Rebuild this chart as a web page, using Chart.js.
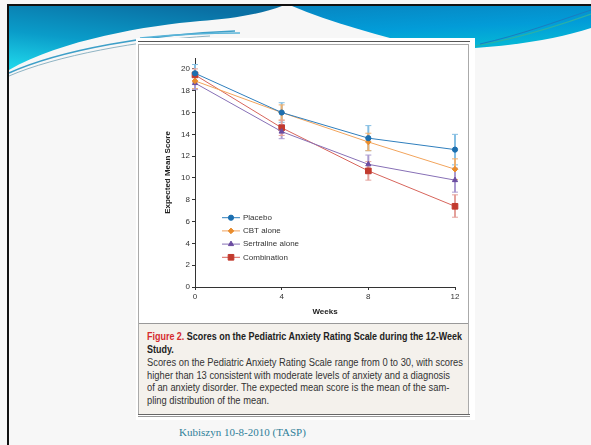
<!DOCTYPE html>
<html>
<head>
<meta charset="utf-8">
<script src="https://cdn.jsdelivr.net/npm/chart.js@4.4.1/dist/chart.umd.min.js"></script>
<style>
  html, body { margin: 0; padding: 0; }
  body { width: 591px; height: 445px; overflow: hidden; background: #f7f7f7; position: relative; font-family: "Liberation Sans", Arial, sans-serif; }
  #header { position: absolute; left: 0; top: 0; }
  .bar { position: absolute; background: #111; }
  #panel { position: absolute; left: 136px; top: 38px; width: 339px; height: 382px; background: #fff; }
  #topline { position: absolute; left: 138px; top: 41px; width: 332px; height: 1px; background: #555; }
  #figbox { position: absolute; left: 138px; top: 44px; width: 329px; height: 369px; border: 1px solid #aaa; background: #fff; }
  #anxietyChart { position: absolute; left: 0; top: 0; }
  #caption { position: absolute; left: 0; top: 278px; width: 329px; height: 91px; background: #f4f1ec; border-top: 1px solid #999; box-sizing: border-box; padding: 6px 0 0 8px; }
  .line { white-space: nowrap; transform-origin: 0 50%; }
  .line span.t { display: inline-block; }
  .cap-title { font-weight: bold; font-size: 10px; line-height: 13px; color: #222; }
  .cap-title .fig { color: #d42a2f; }
  .cap-body { font-size: 10px; line-height: 12.5px; color: #333; }
  #bottomline { position: absolute; left: 138px; top: 414px; width: 332px; height: 1px; border-top: 1px solid #666; border-bottom: 1px solid #999; }
  #footer { position: absolute; left: 179px; top: 426px; font-family: "Liberation Serif", "DejaVu Serif", serif; font-size: 11px; color: #2f7f99; white-space: nowrap; }
</style>
</head>
<body>
<svg id="header" width="591" height="90">
  <defs>
    <linearGradient id="leftBlue" x1="0.6" y1="0" x2="0.1" y2="1">
      <stop offset="0" stop-color="#0a70a4"/>
      <stop offset="0.55" stop-color="#0a9cc9"/>
      <stop offset="1" stop-color="#1fd6ea"/>
    </linearGradient>
    <linearGradient id="rightBlue" x1="0" y1="0" x2="0.3" y2="1">
      <stop offset="0" stop-color="#0786c2"/>
      <stop offset="0.6" stop-color="#029cd8"/>
      <stop offset="1" stop-color="#04b4d6"/>
    </linearGradient>
  </defs>
  <path d="M9,6 L282,6 C 262,14 230,19 200,21 C 150,25 60,40 9,70 Z" fill="url(#leftBlue)"/>
  <path d="M292,6 L591,6 L591,28 C 560,38 520,45 475,48 L 430,48 C 380,36 330,22 292,6 Z" fill="url(#rightBlue)"/>
  <path d="M9,73 C 60,50 150,34 235,31" fill="none" stroke="#3d9fc8" stroke-width="1.5"/>
  <path d="M9,76 C 55,56 140,40 210,36" fill="none" stroke="#8fb4c4" stroke-width="1"/>
  <path d="M140,38 C 170,35 200,33 240,33" fill="none" stroke="#5ab4d8" stroke-width="1.5"/>
  <path d="M475,46 C 520,38 560,25 591,14" fill="none" stroke="#2bb0a6" stroke-width="1.2"/>
  <path d="M480,44 C 520,35 555,22 591,10" fill="none" stroke="#1a7cc0" stroke-width="1"/>
</svg>
<div class="bar" style="left:7px;top:4px;width:584px;height:2px;"></div>
<div class="bar" style="left:7px;top:4px;width:2px;height:441px;"></div>

<div id="panel"></div>
<div id="topline"></div>
<div id="figbox">
  <canvas id="anxietyChart" width="329" height="278"></canvas>
  <div id="caption">
    <div class="line cap-title"><span class="t" id="titleFirst"><span class="fig">Figure 2.</span> Scores on the Pediatric Anxiety Rating Scale during the 12-Week</span></div>
    <div class="line cap-title"><span class="t">Study.</span></div>
    <div style="height:1px"></div>
    <div class="line cap-body"><span class="t" id="bodyFirst">Scores on the Pediatric Anxiety Rating Scale range from 0 to 30, with scores</span></div>
    <div class="line cap-body"><span class="t">higher than 13 consistent with moderate levels of anxiety and a diagnosis</span></div>
    <div class="line cap-body"><span class="t">of an anxiety disorder. The expected mean score is the mean of the sam-</span></div>
    <div class="line cap-body"><span class="t">pling distribution of the mean.</span></div>
  </div>
</div>
<div id="bottomline"></div>
<div id="footer">Kubiszyn 10-8-2010 (TASP)</div>

<script>
// data
const weeks = [0, 4, 8, 12];
const seriesNames = ['Placebo', 'CBT alone', 'Sertraline alone', 'Combination'];

const placeboMean = [19.6, 16.0, 13.65, 12.6];
const placeboLow  = [18.8, 15.1, 12.5, 11.2];
const placeboHigh = [20.4, 16.9, 14.8, 14.0];

const cbtMean = [18.9, 16.0, 13.3, 10.8];
const cbtLow  = [18.2, 15.3, 12.5, 9.85];
const cbtHigh = [19.7, 16.7, 14.1, 11.75];

const sertralineMean = [18.7, 14.25, 11.25, 9.8];
const sertralineLow  = [18.1, 13.6, 10.4, 8.7];
const sertralineHigh = [19.3, 14.9, 12.1, 10.9];

const comboMean = [19.45, 14.6, 10.65, 7.4];
const comboLow  = [18.8, 13.9, 9.8, 6.4];
const comboHigh = [20.0, 15.3, 11.5, 8.45];

const yTicks = [0, 2, 4, 6, 8, 10, 12, 14, 16, 18, 20];
const xTicks = [0, 4, 8, 12];

// fit caption lines to the box width
function fitLines(firstId, cls, target) {
  const w = document.getElementById(firstId).getBoundingClientRect().width;
  const s = target / w;
  document.querySelectorAll('.' + cls).forEach(el => { el.style.transform = 'scaleX(' + s + ')'; });
}
fitLines('titleFirst', 'cap-title', 315);
fitLines('bodyFirst', 'cap-body', 316);

const toPoints = arr => arr.map((v, i) => ({ x: weeks[i], y: v }));

const errorSets = [
  { low: placeboLow, high: placeboHigh, color: '#86bfe3' },
  { low: cbtLow, high: cbtHigh, color: '#eeb070' },
  { low: sertralineLow, high: sertralineHigh, color: '#ab9bd0' },
  { low: comboLow, high: comboHigh, color: '#e4a19b' }
];

const errorBars = {
  id: 'errorBars',
  beforeDatasetsDraw(chart) {
    const { ctx, scales: { x, y } } = chart;
    errorSets.forEach(err => {
      ctx.save();
      ctx.strokeStyle = err.color;
      weeks.forEach((w, j) => {
        const px = x.getPixelForValue(w);
        const top = y.getPixelForValue(err.high[j]);
        const bot = y.getPixelForValue(err.low[j]);
        ctx.lineWidth = 2;
        ctx.beginPath();
        ctx.moveTo(px, top);
        ctx.lineTo(px, bot);
        ctx.stroke();
        ctx.lineWidth = 1;
        ctx.beginPath();
        ctx.moveTo(px - 3, top); ctx.lineTo(px + 3, top);
        ctx.moveTo(px - 3, bot); ctx.lineTo(px + 3, bot);
        ctx.stroke();
      });
      ctx.restore();
    });
  }
};

// legend drawn inside the plot, line with marker in the middle
const innerLegend = {
  id: 'innerLegend',
  afterDatasetsDraw(chart) {
    const { ctx, chartArea } = chart;
    const x0 = chartArea.left + 27;
    const y0 = chartArea.top + 159.7;
    chart.data.datasets.forEach((ds, i) => {
      const yy = y0 + i * 13.2;
      ctx.save();
      ctx.strokeStyle = ds.borderColor;
      ctx.lineWidth = 1;
      ctx.beginPath();
      ctx.moveTo(x0, yy);
      ctx.lineTo(x0 + 18, yy);
      ctx.stroke();
      ctx.fillStyle = ds.pointBackgroundColor;
      ctx.strokeStyle = ds.pointBackgroundColor;
      Chart.helpers.drawPoint(ctx, { pointStyle: ds.pointStyle, radius: ds.pointRadius, rotation: 0, borderWidth: 1 }, x0 + 9, yy);
      ctx.fillStyle = '#333';
      ctx.font = '8px "Liberation Sans", Arial, sans-serif';
      ctx.textBaseline = 'middle';
      ctx.fillText(ds.label, x0 + 21, yy);
      ctx.restore();
    });
  }
};

const tickFont = { family: '"Liberation Sans", Arial, sans-serif', size: 8 };
const titleFont = { family: '"Liberation Sans", Arial, sans-serif', size: 8, weight: 'bold' };

new Chart(document.getElementById('anxietyChart'), {
  type: 'line',
  data: {
    datasets: [
      {
        label: seriesNames[0], data: toPoints(placeboMean),
        borderColor: '#2f7fbd', pointBackgroundColor: '#1c6fb0', pointBorderColor: '#1c6fb0',
        pointStyle: 'circle', pointRadius: 2.6
      },
      {
        label: seriesNames[1], data: toPoints(cbtMean),
        borderColor: '#f2a45c', pointBackgroundColor: '#e98c2c', pointBorderColor: '#e98c2c',
        pointStyle: 'rectRot', pointRadius: 2.8
      },
      {
        label: seriesNames[2], data: toPoints(sertralineMean),
        borderColor: '#8770b6', pointBackgroundColor: '#6a4ca0', pointBorderColor: '#6a4ca0',
        pointStyle: 'triangle', pointRadius: 3
      },
      {
        label: seriesNames[3], data: toPoints(comboMean),
        borderColor: '#d7655c', pointBackgroundColor: '#c23a2e', pointBorderColor: '#c23a2e',
        pointStyle: 'rect', pointRadius: 4
      }
    ]
  },
  options: {
    responsive: false,
    animation: false,
    events: [],
    layout: { padding: { left: 0, right: 13, top: 13, bottom: 0 } },
    elements: { line: { borderWidth: 1, tension: 0 }, point: { borderWidth: 1 } },
    datasets: { line: { clip: false } },
    plugins: { legend: { display: false }, tooltip: { enabled: false } },
    scales: {
      x: {
        type: 'linear', min: 0, max: 12,
        afterFit: s => { s.height = 36; },
        afterBuildTicks: s => { s.ticks = xTicks.map(v => ({ value: v })); },
        ticks: { font: tickFont, color: '#333', padding: 2, maxRotation: 0 },
        grid: { display: true, drawOnChartArea: false, drawTicks: true, tickLength: 3, color: '#333' },
        border: { display: true, color: '#333', width: 1 },
        title: { display: true, text: 'Weeks', font: titleFont, color: '#222', padding: { top: 0, bottom: 6 } }
      },
      y: {
        type: 'linear', min: 0, max: 21,
        afterFit: s => { s.width = 56; },
        afterBuildTicks: s => { s.ticks = yTicks.map(v => ({ value: v })); },
        ticks: { font: tickFont, color: '#333', padding: 2 },
        grid: { display: true, drawOnChartArea: false, drawTicks: true, tickLength: 3, color: '#333' },
        border: { display: true, color: '#333', width: 1 },
        title: { display: true, text: 'Expected Mean Score', font: titleFont, color: '#222', padding: { top: 24, bottom: 0 } }
      }
    }
  },
  plugins: [errorBars, innerLegend]
});
</script>
</body>
</html>
